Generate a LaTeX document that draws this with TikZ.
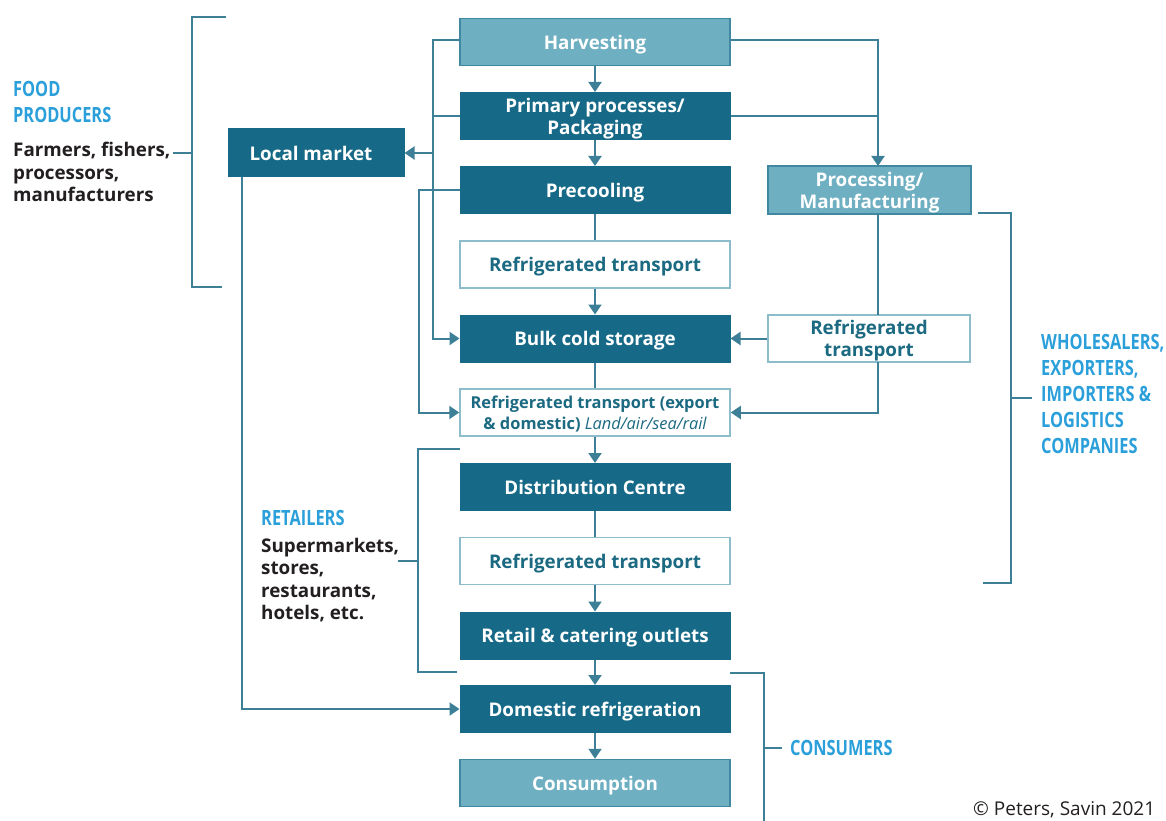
\documentclass[tikz,border=0pt]{standalone}
\usepackage{fontspec}
\setmainfont{Open Sans}
\newfontfamily\condfont[FakeStretch=0.78]{Open Sans}
\usetikzlibrary{arrows.meta}
\definecolor{darkteal}{HTML}{176A87}
\definecolor{lightteal}{HTML}{6FAFC2}
\definecolor{lightborder}{HTML}{3F88A0}
\definecolor{whiteborder}{HTML}{8DBDCB}
\definecolor{linec}{HTML}{3C7F96}
\definecolor{labelblue}{HTML}{2A9FDA}
\definecolor{tealtext}{HTML}{1B6A82}
\definecolor{blacktext}{HTML}{231F20}
\begin{document}
\begin{tikzpicture}[x=1pt,y=-1pt,
  box/.style={minimum width=270pt, minimum height=47pt, inner sep=0pt, align=center,
    text depth=0pt, font=\fontsize{18.8}{22}\selectfont\bfseries},
  darkbox/.style={box, fill=darkteal, draw=darkteal, line width=1pt, text=white},
  lightbox/.style={box, fill=lightteal, draw=lightborder, line width=1.5pt, text=white},
  whitebox/.style={box, fill=white, draw=whiteborder, line width=1.5pt, text=tealtext},
  conn/.style={draw=linec, line width=2pt},
  arr/.style={conn, -{Triangle[width=13pt,length=10pt]}},
  brack/.style={draw=linec, line width=2pt},
  bluelabel/.style={text=labelblue, inner sep=0pt, align=left,
    font=\condfont\fontsize{21}{26}\selectfont\bfseries},
  blacklabel/.style={text=blacktext, inner sep=0pt, align=left,
    font=\fontsize{18.8}{22.5}\selectfont\bfseries}
]
\useasboundingbox (0,0) rectangle (1166,821);

% main column
\node[lightbox] (harv) at (595,42) {Harvesting};
\node[darkbox] (prim) at (595,116) {Primary processes/\\Packaging};
\node[darkbox] (prec) at (595,190) {Precooling};
\node[whitebox] (rt1) at (595,264.5) {Refrigerated transport};
\node[darkbox] (bulk) at (595,338.5) {Bulk cold storage};
\node[whitebox, font=\fontsize{16.4}{21.5}\selectfont\bfseries] (rtx) at (595,412.5)
  {Refrigerated transport (export\\\& domestic) {\mdseries\itshape Land/air/sea/rail}};
\node[darkbox] (dist) at (595,487) {Distribution Centre};
\node[whitebox] (rt2) at (595,561) {Refrigerated transport};
\node[darkbox] (retail) at (595,635.5) {Retail \& catering outlets};
\node[darkbox] (dom) at (595,709) {Domestic refrigeration};
\node[lightbox] (cons) at (595,783) {Consumption};

% side boxes
\node[darkbox, minimum width=176pt, minimum height=48pt] (local) at (316,153) {\hspace*{-10pt}Local market};
\node[lightbox, minimum width=203pt, minimum height=48pt] (proc) at (869.5,190) {Processing/\\Manufacturing};
\node[whitebox, minimum width=202pt] (rtR) at (869,338.5) {Refrigerated\\transport};

% main column connectors
\draw[arr] (harv) -- (prim);
\draw[arr] (prim) -- (prec);
\draw[conn] (prec) -- (rt1);
\draw[arr] (rt1) -- (bulk);
\draw[conn] (bulk) -- (rtx);
\draw[arr] (rtx) -- (dist);
\draw[conn] (dist) -- (rt2);
\draw[arr] (rt2) -- (retail);
\draw[arr] (retail) -- (dom);
\draw[arr] (dom) -- (cons);

% left bus
\coordinate (busA) at (434,153);
\draw[arr] ([yshift=2pt]harv.west) -- ++(-26,0) |- (bulk.west);
\draw[conn] (prim.west) -- ++(-26,0);
\draw[arr] (busA) -- (local.east);
\draw[arr] (prec.west) -- ++(-41,0) |- (rtx.west);
\draw[arr] ([xshift=14pt]local.south west) |- (dom.west);

% right bus
\coordinate (rbTop) at (878,166);
\coordinate (rbBot) at (878,314.5);
\coordinate (rbOut) at (878,362);
\draw[arr] ([yshift=2pt]harv.east) -| (rbTop);
\draw[conn] (prim.east) -| (878,116);
\draw[conn] (878,214) -- (rbBot);
\draw[arr] (rtR.west) -- (bulk.east);
\draw[arr] (rbOut) |- (rtx.east);

% brackets
\draw[brack] (226,17) -- (192,17) -- (192,287) -- (222,287);
\draw[brack] (173,153) -- (192,153);
\draw[brack] (978,213) -- (1011,213) -- (1011,583) -- (983,583);
\draw[brack] (1011,398) -- (1032,398);
\draw[brack] (460,449) -- (418,449) -- (418,672) -- (457,672);
\draw[brack] (398,561) -- (418,561);
\draw[brack] (730,673) -- (764,673) -- (764,830);
\draw[brack] (764,748) -- (782,748);

% labels
\node[bluelabel, anchor=north west] (fp) at (13,81) {FOOD\\PRODUCERS};
\node[blacklabel, anchor=north west] (fpt) at (13,142) {Farmers, fishers,\\processors,\\manufacturers};
\node[bluelabel, anchor=west] (ret) at (261,518) {RETAILERS};
\node[blacklabel, anchor=north west] (rett) at (261,538) {Supermarkets,\\stores,\\restaurants,\\hotels, etc.};
\node[bluelabel, anchor=north west] (wh) at (1041,334) {WHOLESALERS,\\EXPORTERS,\\IMPORTERS \&\\LOGISTICS\\COMPANIES};
\node[bluelabel, anchor=west] (cn) at (790,748) {CONSUMERS};
\node[anchor=base west, inner sep=0pt, text=blacktext, font=\fontsize{19}{20}\selectfont] (cr) at (973,815) {\textcopyright{} Peters, Savin 2021};
\end{tikzpicture}
\end{document}
